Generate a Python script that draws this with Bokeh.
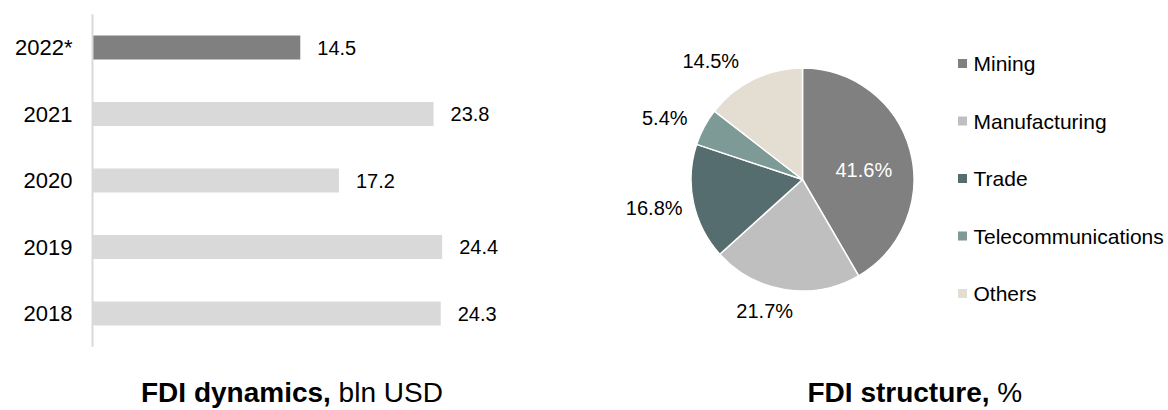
import math
from bokeh.plotting import figure
from bokeh.models import Range1d, ColumnDataSource, FixedTicker
from bokeh.layouts import row
from bokeh.embed import file_html
from bokeh.resources import INLINE
from bokeh.core.properties import value

# ---------------- data ----------------
years = ["2018", "2019", "2020", "2021", "2022*"]
fdi_values = [24.3, 24.4, 17.2, 23.8, 14.5]

sectors = ["Mining", "Manufacturing", "Trade", "Telecommunications", "Others"]
shares = [41.6, 21.7, 16.8, 5.4, 14.5]

# ---------------- style / layout ----------------
FONT = "Liberation Sans"
bar_colors = ["#d9d9d9", "#d9d9d9", "#d9d9d9", "#d9d9d9", "#808080"]
sector_colors = ["#808080", "#bfbfbf", "#566d70", "#7d9a97", "#e4ddd1"]
pie_label_colors = ["white", "black", "black", "black", "black"]
# label placement tweaks (angle shift in degrees, distance from centre in px)
pie_label_nudge = [6.7, 7.2, 1.0, -3.9, -11.6]
pie_label_dist = [62, 137, 151, 151, 150]

TOTAL_W, TOTAL_H = 1168, 410
LEFT_W = 560
RIGHT_W = TOTAL_W - LEFT_W
PX_PER_UNIT = 14.33      # horizontal scale of the bar chart
STEP = 66.5              # pixels per category
FRAME_LEFT = 90
ZERO_PX = 92             # page x of value 0
TOP_CAT_PX = 47          # page y of the top category centre
TITLE_FS = 28
TITLE_MID = 392          # page y of the title's middle

# ---------------- left: bar chart ----------------
n = len(years)
idx = list(range(n))
y_top = (n - 1) + TOP_CAT_PX / STEP
y_bot = y_top - TOTAL_H / STEP
frame_w = LEFT_W - FRAME_LEFT
x_start = -(ZERO_PX - FRAME_LEFT) / PX_PER_UNIT
x_end = x_start + frame_w / PX_PER_UNIT

p1 = figure(width=LEFT_W, height=TOTAL_H,
            y_range=Range1d(y_bot, y_top), x_range=Range1d(x_start, x_end),
            output_backend="svg", toolbar_location=None,
            x_axis_location=None,
            min_border_left=FRAME_LEFT, min_border_right=0,
            min_border_top=0, min_border_bottom=0)
p1.outline_line_color = None
p1.xgrid.visible = False
p1.ygrid.visible = False

src1 = ColumnDataSource(dict(y=idx, val=fdi_values, color=bar_colors,
                             label=[f"{v:.1f}" for v in fdi_values]))
p1.hbar(y="y", left=0, right="val", height=0.36, fill_color="color",
        line_color=None, source=src1)
p1.text(x="val", y="y", text="label", source=src1, x_offset=17,
        text_baseline="middle", text_align="left",
        text_font=value(FONT), text_font_size="20px", text_color="black")
# category axis line
p1.segment(x0=[0], x1=[0], y0=[-0.5], y1=[n - 0.5], line_color="#d9d9d9", line_width=2)

ya = p1.yaxis[0]
ya.ticker = FixedTicker(ticks=idx)
ya.major_label_overrides = {i: y for i, y in zip(idx, years)}
ya.axis_line_color = None
ya.major_tick_line_color = None
ya.minor_tick_line_color = None
ya.major_tick_in = 0
ya.major_tick_out = 0
ya.major_label_standoff = 18
ya.major_label_text_font = FONT
ya.major_label_text_font_size = "22px"
ya.major_label_text_color = "black"

# title of the left panel
lt_start_px = 140.5
lt_y = y_top - TITLE_MID / STEP
lt_x = (lt_start_px - ZERO_PX) / PX_PER_UNIT
p1.text(x=[lt_x], y=[lt_y], text=["FDI dynamics,"], text_align="left",
        text_baseline="middle", text_font=value(FONT),
        text_font_size=f"{TITLE_FS}px", text_font_style="bold", text_color="black")
p1.text(x=[lt_x + (6.78 + 0.278) * TITLE_FS / PX_PER_UNIT], y=[lt_y], text=["bln USD"],
        text_align="left", text_baseline="middle", text_font=value(FONT),
        text_font_size=f"{TITLE_FS}px", text_color="black")

# ---------------- right: pie chart ----------------
p2 = figure(width=RIGHT_W, height=TOTAL_H,
            x_range=Range1d(0, RIGHT_W), y_range=Range1d(0, TOTAL_H),
            output_backend="svg", toolbar_location=None,
            x_axis_location=None, y_axis_location=None, min_border=0)
p2.outline_line_color = None
p2.xgrid.visible = False
p2.ygrid.visible = False

cx, cy, r = 802 - LEFT_W, TOTAL_H - 179, 111.5
total = sum(shares)
starts, ends, mids = [], [], []
cum = 0.0
for s in shares:
    a0 = cum / total
    cum += s
    a1 = cum / total
    starts.append(math.pi / 2 - 2 * math.pi * a0)
    ends.append(math.pi / 2 - 2 * math.pi * a1)
    mids.append(360 * (a0 + a1) / 2)

src2 = ColumnDataSource(dict(start=starts, end=ends, color=sector_colors))
p2.wedge(x=cx, y=cy, radius=r, start_angle="start", end_angle="end",
         direction="clock", fill_color="color", line_color="white",
         line_width=1.5, source=src2)

lx, ly = [], []
for m, dn, d in zip(mids, pie_label_nudge, pie_label_dist):
    th = math.radians(m + dn)
    lx.append(cx + d * math.sin(th))
    ly.append(cy + d * math.cos(th))
src3 = ColumnDataSource(dict(x=lx, y=ly, text=[f"{s:.1f}%" for s in shares],
                             color=pie_label_colors))
p2.text(x="x", y="y", text="text", text_color="color", source=src3,
        text_align="center", text_baseline="middle",
        text_font=value(FONT), text_font_size="20px")

# legend
leg_x, leg_top, leg_step = 962 - LEFT_W, TOTAL_H - 63, 57.5
leg_y = [leg_top - i * leg_step for i in range(len(sectors))]
src4 = ColumnDataSource(dict(x=[leg_x] * len(sectors), y=leg_y, color=sector_colors,
                             tx=[leg_x + 11] * len(sectors), name=sectors))
p2.scatter(x="x", y="y", marker="square", size=9, fill_color="color",
           line_color=None, source=src4)
p2.text(x="tx", y="y", text="name", source=src4, text_align="left",
        text_baseline="middle", text_font=value(FONT), text_font_size="21px",
        text_color="black")

# title of the right panel
rt_x, rt_y = 807 - LEFT_W, TOTAL_H - TITLE_MID
p2.text(x=[rt_x], y=[rt_y], text=["FDI structure,"], text_align="left",
        text_baseline="middle", text_font=value(FONT),
        text_font_size=f"{TITLE_FS}px", text_font_style="bold", text_color="black")
p2.text(x=[rt_x + (6.501 + 0.278) * TITLE_FS], y=[rt_y], text=["%"], text_align="left",
        text_baseline="middle", text_font=value(FONT),
        text_font_size=f"{TITLE_FS}px", text_color="black")

layout = row(p1, p2)
open("out.html", "w").write(file_html(layout, INLINE))
